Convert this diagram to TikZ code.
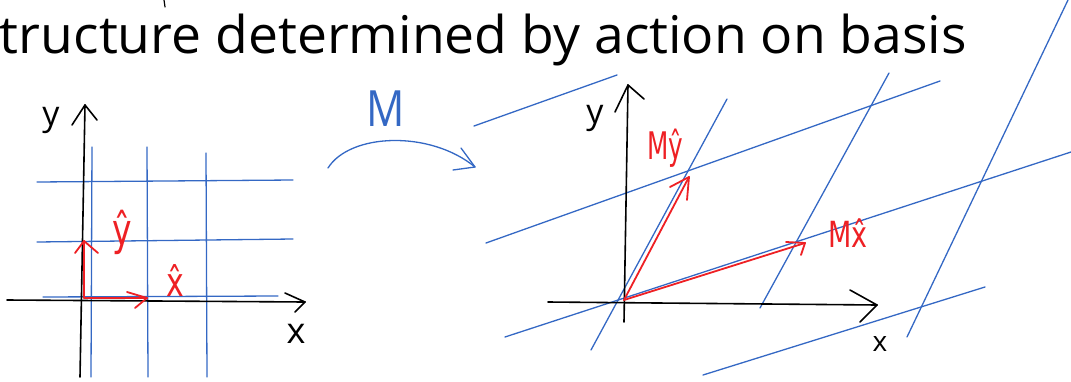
\documentclass[tikz,border=0pt]{standalone}
\usepackage{fontspec}
\setmainfont{Open Sans}
\newfontfamily\hatfont{DejaVu Sans}
\usepackage{graphicx}
\definecolor{gridblue}{RGB}{52,104,196}
\definecolor{vecred}{RGB}{238,32,36}
\tikzset{
  ink/.style={line width=1.6pt, line cap=round, line join=round},
  axis/.style={ink, black},
  gridline/.style={ink, line width=1.3pt, gridblue},
  vec/.style={ink, line width=1.8pt, vecred},
  lbl/.style={inner sep=0pt, outer sep=0pt},
}
\begin{document}
\begin{tikzpicture}[x=1pt,y=-1pt]
\useasboundingbox (0,0) rectangle (1071,381);
% title
\node[lbl, anchor=base west] (title) at (0,53)
  {\resizebox{967pt}{\height}{\fontsize{52}{60}\selectfont tructure determined by action on basis}};
\coordinate (frag0) at (164,0); \coordinate (frag1) at (165,7);
\draw[axis, line width=1.2pt] (frag0) -- (frag1);

% ---------- left panel ----------
% grid
\coordinate (lv1a) at (92,147); \coordinate (lv1b) at (91,377);
\coordinate (lv2a) at (147,147); \coordinate (lv2b) at (148,377);
\coordinate (lv3a) at (206,153); \coordinate (lv3b) at (207,377);
\coordinate (lh1a) at (37,182); \coordinate (lh1b) at (293,180);
\coordinate (lh2a) at (37,242); \coordinate (lh2b) at (293,239);
\coordinate (lh3a) at (43,297); \coordinate (lh3b) at (278,296);
\foreach \l in {lv1,lv2,lv3,lh1,lh2,lh3} \draw[gridline] (\l a) -- (\l b);
% axes
\coordinate (Ly0) at (80,377); \coordinate (Ly1) at (85,105);
\coordinate (Lyb1) at (72,125); \coordinate (Lyb2) at (97,120);
\draw[axis] (Ly0) -- (Ly1);
\draw[axis] (Lyb1) -- (Ly1) -- (Lyb2);
\coordinate (Lx0) at (7,300); \coordinate (Lx1) at (305,302);
\coordinate (Lxb1) at (285,293); \coordinate (Lxb2) at (295,312);
\draw[axis] (Lx0) -- (Lx1);
\draw[axis] (Lxb1) -- (Lx1) -- (Lxb2);
\node[lbl, font=\fontsize{34}{40}\selectfont] (Lylab) at (51,120) {y};
\node[lbl, font=\fontsize{36}{40}\selectfont] (Lxlab) at (296,334) {x};
% basis vectors
\coordinate (Lo) at (84,298);
\coordinate (Lyt) at (84,241); \coordinate (Lytb1) at (75,253); \coordinate (Lytb2) at (98,253);
\coordinate (Lxt) at (147,298); \coordinate (Lxtb1) at (127,292); \coordinate (Lxtb2) at (135,308);
\draw[vec] (Lo) -- (Lyt); \draw[vec] (Lytb1) -- (Lyt) -- (Lytb2);
\draw[vec] (Lo) -- (Lxt); \draw[vec] (Lxtb1) -- (Lxt) -- (Lxtb2);
\node[lbl, vecred, font=\hatfont\fontsize{44}{50}\selectfont] (yhat) at (122,232) {\scalebox{0.75}[1]{ŷ}};
\node[lbl, vecred, font=\hatfont\fontsize{40}{46}\selectfont] (xhat) at (175,280) {\scalebox{0.75}[1]{x̂}};

% ---------- map arrow ----------
\coordinate (Ma) at (328,168); \coordinate (Mb) at (475,167);
\coordinate (Mb1) at (461,148); \coordinate (Mb2) at (453,170);
\draw[gridline] (Ma) .. controls (350,133) and (430,130) .. (Mb);
\draw[gridline] (Mb1) -- (Mb) -- (Mb2);
\node[lbl, gridblue, font=\fontsize{50}{56}\selectfont] (Mlab) at (386,109) {\scalebox{0.85}[1]{M}};

% ---------- right panel ----------
\coordinate (r1a) at (474,126); \coordinate (r1b) at (617,75);
\coordinate (r2a) at (486,243); \coordinate (r2b) at (940,81);
\coordinate (r3a) at (505,337); \coordinate (r3b) at (1071,152);
\coordinate (r4a) at (703,375); \coordinate (r4b) at (985,287);
\coordinate (rsa) at (591,350); \coordinate (rsb) at (727,99);
\coordinate (rta) at (760,308); \coordinate (rtb) at (889,73);
\coordinate (rua) at (907,337); \coordinate (rub) at (1068,0);
\foreach \l in {r1,r2,r3,r4,rs,rt,ru} \draw[gridline] (\l a) -- (\l b);
% axes
\coordinate (Ry0) at (624,322); \coordinate (Ry1) at (628,85);
\coordinate (Ryb1) at (615,112); \coordinate (Ryb2) at (644,99);
\draw[axis] (Ry0) -- (Ry1);
\draw[axis] (Ryb1) -- (Ry1) -- (Ryb2);
\coordinate (Rx0) at (548,302); \coordinate (Rx1) at (877,305);
\coordinate (Rxb1) at (850,290); \coordinate (Rxb2) at (860,322);
\draw[axis] (Rx0) -- (Rx1);
\draw[axis] (Rxb1) -- (Rx1) -- (Rxb2);
\node[lbl, font=\fontsize{34}{40}\selectfont] (Rylab) at (595,118) {y};
\node[lbl, font=\fontsize{28}{32}\selectfont] (Rxlab) at (880,344) {x};
% transformed basis
\coordinate (Ro) at (624,300);
\coordinate (Ryt) at (689,177); \coordinate (Rytb1) at (670,187); \coordinate (Rytb2) at (687,200);
\coordinate (Rxt) at (805,243); \coordinate (Rxtb1) at (786,242); \coordinate (Rxtb2) at (801,255);
\draw[vec] (Ro) -- (Ryt); \draw[vec] (Rytb1) -- (Ryt) -- (Rytb2);
\draw[vec] (Ro) -- (Rxt); \draw[vec] (Rxtb1) -- (Rxt) -- (Rxtb2);
\node[lbl, vecred, font=\hatfont\fontsize{38}{44}\selectfont] (Mylab) at (665,148) {\scalebox{0.65}[1]{Mŷ}};
\node[lbl, vecred, font=\hatfont\fontsize{36}{42}\selectfont] (Mxlab) at (848,233) {\scalebox{0.75}[1]{Mx̂}};
\end{tikzpicture}
\end{document}
